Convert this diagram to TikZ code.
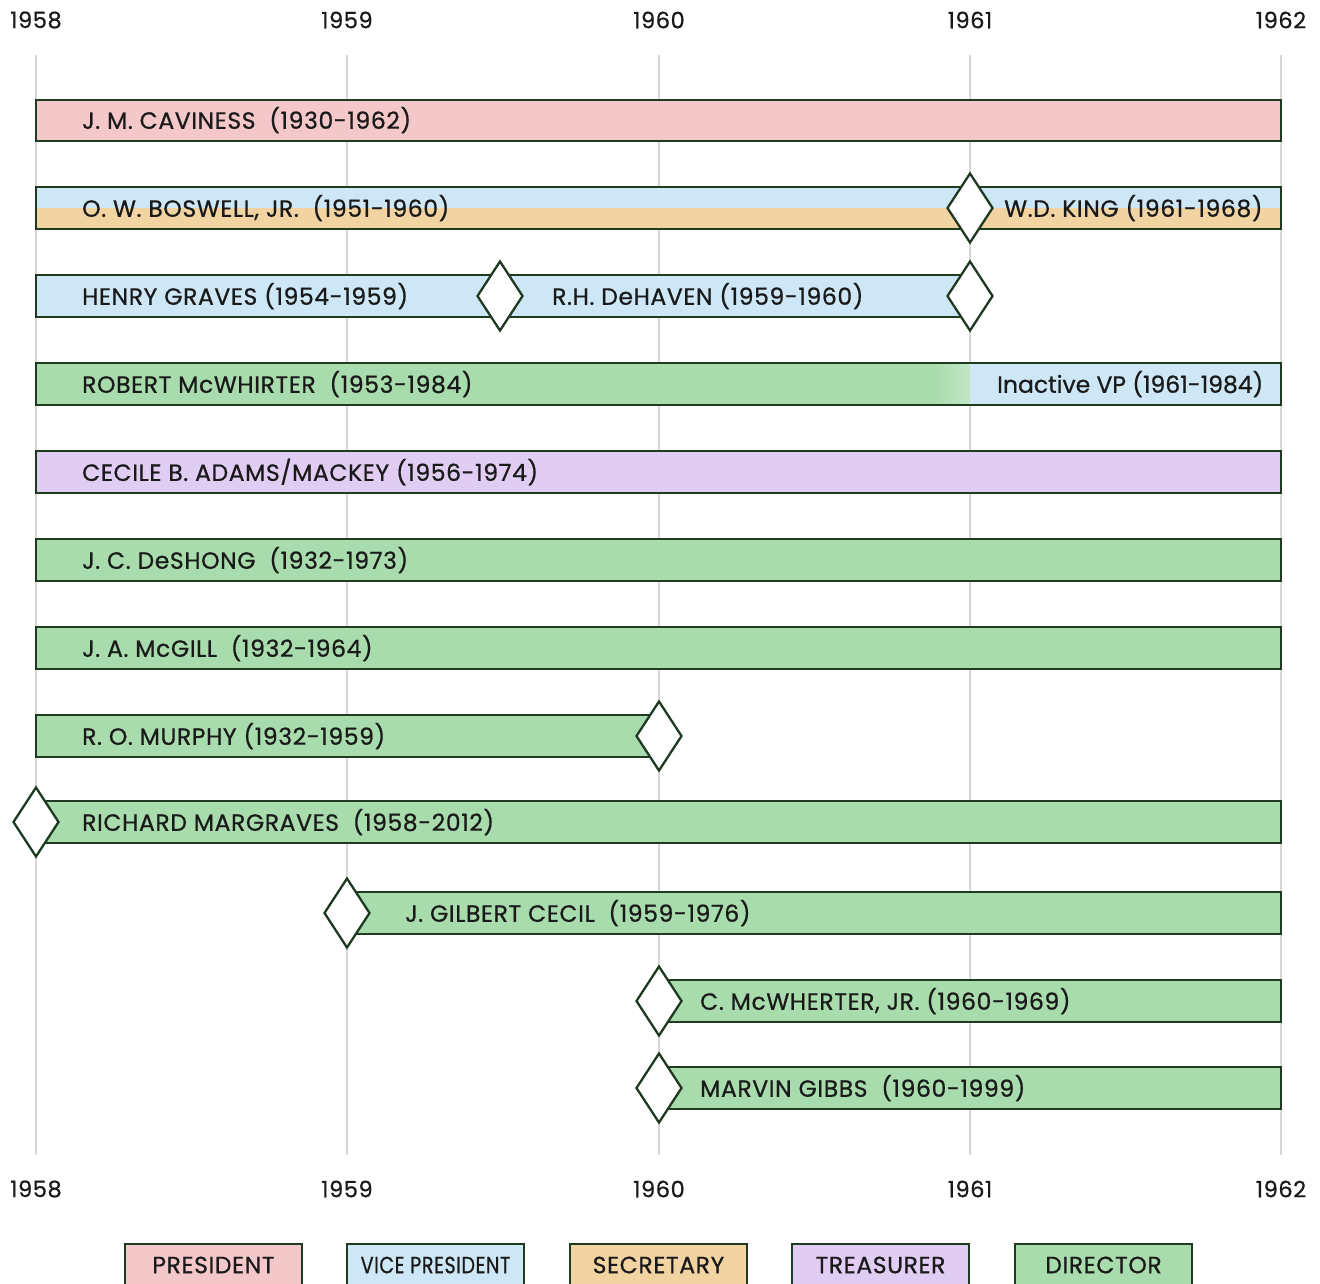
\documentclass[tikz,border=0pt]{standalone}
\usepackage{fontspec}
\setmainfont{Poppins}[FakeBold=0.7, LetterSpace=2.5]
\usetikzlibrary{shapes.geometric}

\definecolor{pres}{HTML}{F4C8C9}
\definecolor{vp}{HTML}{CDE7F6}
\definecolor{sec}{HTML}{F2D3A2}
\definecolor{tre}{HTML}{E1CDF3}
\definecolor{dir}{HTML}{A9DCAD}
\definecolor{edge}{HTML}{1E3B22}
\definecolor{gridc}{HTML}{D6D6D6}
\definecolor{ink}{HTML}{1A1A1A}

\tikzset{
  gridline/.style={draw=gridc, line width=1.5pt},
  year/.style={font=\fontsize{22.5}{24}\selectfont, text=ink, inner sep=0pt},
  barframe/.style={draw=edge, line width=2.3pt},
  lbl/.style={anchor=west, inner sep=0pt, text=ink, font=\fontsize{23.5}{25}\selectfont},
  milestone/.style={diamond, draw=edge, fill=white, line width=2.3pt, inner sep=0pt,
    minimum width=46pt, minimum height=70pt},
  legendbox/.style={draw=edge, line width=2pt, minimum width=177pt, minimum height=52pt,
    anchor=north, inner sep=0pt},
  legendtxt/.style={inner sep=0pt, text=ink, font=\fontsize{23.5}{25}\selectfont},
}

\begin{document}
\begin{tikzpicture}[x=1pt, y=-1pt]
\useasboundingbox[fill=white] (0,0) rectangle (1320,1283);

% year grid and axis labels
\foreach \x/\yr in {36/1958,347/1959,659/1960,970/1961,1281/1962} {
  \draw[gridline] (\x,55) -- (\x,1155);
  \node[year] (top\yr) at (\x,20) {\yr};
  \node[year] (bot\yr) at (\x,1189) {\yr};
}

% president
\path[barframe, fill=pres] (36,100) rectangle (1281,141);
\node[lbl] (caviness) at (82,120) {J. M. CAVINESS\ \ (1930-1962)};

% vice president / secretary
\fill[vp]  (36,187) rectangle (1281,208);
\fill[sec] (36,208) rectangle (1281,229);
\draw[barframe] (36,187) rectangle (1281,229);
\node[lbl] (boswell) at (82,208) {O. W. BOSWELL, JR.\ \ (1951-1960)};
\node[milestone] (kingstart) at (970,208) {};
\node[lbl] (king) at (1004,208) {W.D. KING (1961-1968)};

% vice presidents
\path[barframe, fill=vp] (36,275) rectangle (960,317);
\node[lbl] (graves) at (82,296) {HENRY GRAVES (1954-1959)};
\node[milestone] (dehavenstart) at (500,296) {};
\node[lbl] (dehaven) at (552,296) {R.H. DeHAVEN (1959-1960)};
\node[milestone] (dehavenend) at (970,296) {};

% director, then inactive vice president
\fill[dir] (36,363) rectangle (936,405);
\shade[left color=dir, right color=dir!70!white] (936,363) rectangle (970,405);
\fill[vp] (970,363) rectangle (1281,405);
\draw[barframe] (36,363) rectangle (1281,405);
\node[lbl] (mcwhirter) at (82,384) {ROBERT McWHIRTER\ \ (1953-1984)};
\node[lbl] (inactive) at (997,384) {\addfontfeature{LetterSpace=0}Inactive VP (1961-1984)};

% treasurer
\path[barframe, fill=tre] (36,451) rectangle (1281,493);
\node[lbl] (adams) at (82,472) {CECILE B. ADAMS/MACKEY (1956-1974)};

% directors
\path[barframe, fill=dir] (36,539) rectangle (1281,581);
\node[lbl] (deshong) at (82,560) {J. C. DeSHONG\ \ (1932-1973)};

\path[barframe, fill=dir] (36,627) rectangle (1281,669);
\node[lbl] (mcgill) at (82,648) {J. A. McGILL\ \ (1932-1964)};

\path[barframe, fill=dir] (36,715) rectangle (659,757);
\node[lbl] (murphy) at (82,736) {R. O. MURPHY (1932-1959)};
\node[milestone] (murphyend) at (659,736) {};

\path[barframe, fill=dir] (36,801) rectangle (1281,843);
\node[milestone] (margravesstart) at (36,822) {};
\node[lbl] (margraves) at (82,822) {RICHARD MARGRAVES\ \ (1958-2012)};

\path[barframe, fill=dir] (347,892) rectangle (1281,934);
\node[milestone] (cecilstart) at (347,913) {};
\node[lbl] (cecil) at (405,913) {J. GILBERT CECIL\ \ (1959-1976)};

\path[barframe, fill=dir] (659,980) rectangle (1281,1022);
\node[milestone] (cmcwstart) at (659,1001) {};
\node[lbl] (cmcw) at (700,1001) {C. McWHERTER, JR. (1960-1969)};

\path[barframe, fill=dir] (659,1067) rectangle (1281,1109);
\node[milestone] (gibbsstart) at (659,1088) {};
\node[lbl] (gibbs) at (700,1088) {MARVIN GIBBS\ \ (1960-1999)};

% legend
\foreach \cx/\col/\name/\txt in {213.5/pres/legpres/PRESIDENT,
    435.5/vp/legvp/{\scalebox{0.82}[1]{VICE PRESIDENT}}, 658.5/sec/legsec/SECRETARY,
    880.5/tre/legtre/TREASURER, 1103.5/dir/legdir/DIRECTOR} {
  \node[legendbox, fill=\col] (\name) at (\cx,1243) {};
  \node[legendtxt] (\name txt) at (\cx,1265) {\txt};
}
\end{tikzpicture}
\end{document}
